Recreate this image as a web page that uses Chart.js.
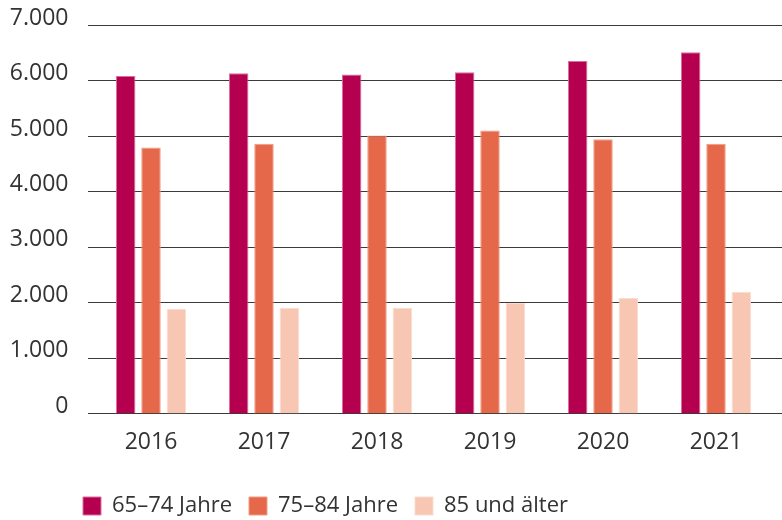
<!DOCTYPE html>
<html>
<head>
<meta charset="utf-8">
<script src="https://cdn.jsdelivr.net/npm/chart.js@4"></script>
<style>
  html, body { margin: 0; padding: 0; background: #fff; }
  #wrap { width: 782px; height: 520px; }
</style>
</head>
<body>
<div id="wrap"><canvas id="myChart"></canvas></div>
<script>
const years = ['2016', '2017', '2018', '2019', '2020', '2021'];
const age65to74 = [6080, 6130, 6110, 6150, 6350, 6510];
const age75to84 = [4790, 4860, 5010, 5100, 4940, 4860];
const age85plus = [1880, 1900, 1900, 1990, 2080, 2190];
const yTicks = [0, 1000, 2000, 3000, 4000, 5000, 6000, 7000];

const textColor = '#333333';
const fontFamily = "'Open Sans', sans-serif";

// horizontal grid lines run wider than the category area
const gridLines = {
	id: 'gridLines',
	beforeDatasetsDraw(chart) {
		const y = chart.scales.y;
		const c = chart.ctx;
		c.save();
		c.strokeStyle = '#3a3a3a';
		c.lineWidth = 1;
		yTicks.forEach(v => {
			const py = Math.round(y.getPixelForValue(v)) + 0.5;
			c.beginPath();
			c.moveTo(88, py);
			c.lineTo(782, py);
			c.stroke();
		});
		c.restore();
	}
};

// legend sits a bit further right and lower than the default place
const legendShift = {
	id: 'legendShift',
	afterLayout(chart) {
		const lg = chart.legend;
		lg.left += 66; lg.right += 66;
		lg.top += 15; lg.bottom += 15;
	}
};

const ctx = document.getElementById('myChart');
new Chart(ctx, {
	type: 'bar',
	data: {
		labels: years,
		datasets: [{
			label: '65–74 Jahre',
			data: age65to74,
			backgroundColor: '#b5004f',
			borderColor: '#d86e9c',
			borderWidth: 1,
		},
		{
			label: '75–84 Jahre',
			data: age75to84,
			backgroundColor: '#e5684b',
			borderColor: '#f09a85',
			borderWidth: 1,
		},
		{
			label: '85 und älter',
			data: age85plus,
			backgroundColor: '#f7c7b3',
			borderColor: '#fbdccf',
			borderWidth: 1,
		}]
	},
	options: {
		responsive: true,
		maintainAspectRatio: false,
		animation: false,
		datasets: {
			bar: {
				categoryPercentage: 0.672,
				barPercentage: 0.77,
			}
		},
		layout: {
			padding: {
				left: 0,
				right: 9.5,
				top: 25,
				bottom: 8,
			}
		},
		plugins: {
			legend: {
				position: 'bottom',
				align: 'start',
				labels: {
					color: textColor,
					boxWidth: 18,
					boxHeight: 18,
					padding: 17,
					font: {
						family: fontFamily,
						size: 22,
					},
				}
			},
			tooltip: { enabled: false },
		},
		scales: {
			y: {
				min: 0,
				max: 7000,
				afterFit(scale) {
					scale.width = 94.5;
					scale.paddingTop = 10;
					scale.paddingBottom = 10;
				},
				afterBuildTicks(scale) { scale.ticks = yTicks.map(v => ({ value: v })); },
				grid: { display: false },
				border: { display: false },
				ticks: {
					color: textColor,
					padding: 18,
					labelOffset: -7,
					font: { family: fontFamily, size: 23 },
					callback: v => v.toLocaleString('de-DE'),
				},
			},
			x: {
				grid: { display: false },
				border: { display: false },
				ticks: {
					color: textColor,
					padding: 7,
					font: { family: fontFamily, size: 23 },
				},
			}
		}
	},
	plugins: [gridLines, legendShift]
});
</script>
</body>
</html>
